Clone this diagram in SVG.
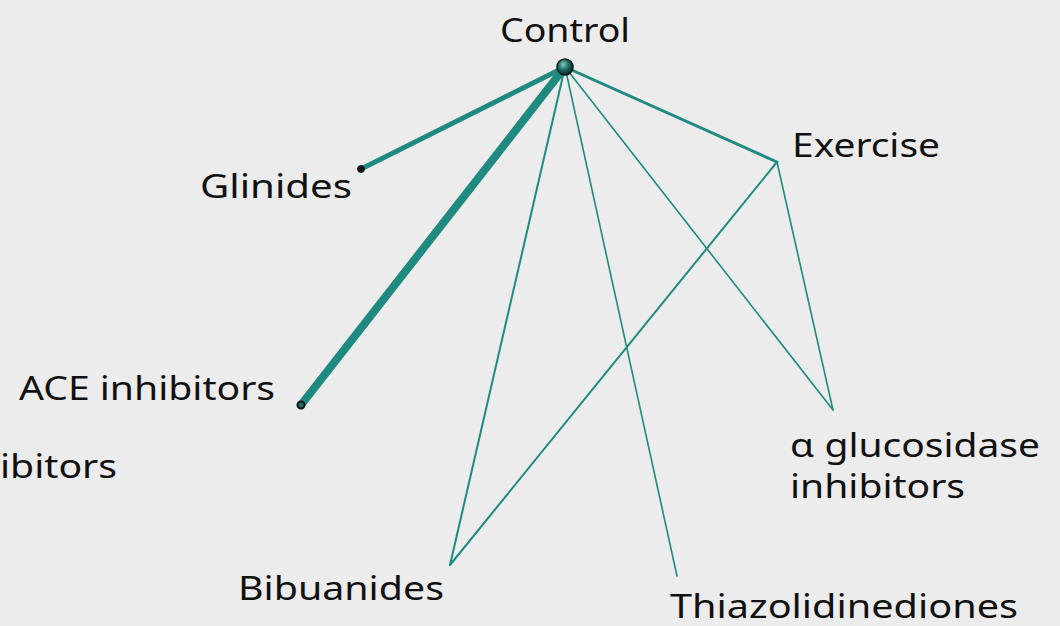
<svg xmlns="http://www.w3.org/2000/svg" width="1060" height="626" viewBox="0 0 1060 626">
<defs>
<radialGradient id="sph" cx="40%" cy="35%" r="65%">
<stop offset="0" stop-color="#7fc9c0"/>
<stop offset="0.5" stop-color="#1f6f68"/>
<stop offset="1" stop-color="#0a2422"/>
</radialGradient>
</defs>
<style>
.lbl{font-family:"Noto Sans","Open Sans",sans-serif;font-size:33px;fill:#111;}
.e{stroke:#1e8a80;fill:none;stroke-linecap:round;}
.dot{fill:#111;stroke:#222;}
</style>
<rect width="1060" height="626" fill="#ececec"/>
<g id="connectors">
<line class="e" x1="565" y1="67" x2="361" y2="169" stroke-width="5"/>
<line class="e" x1="565" y1="67" x2="301" y2="405" stroke-width="8"/>
<line class="e" x1="565" y1="67" x2="777" y2="162" stroke-width="3"/>
<line class="e" x1="565" y1="67" x2="450" y2="565" stroke-width="2"/>
<line class="e" x1="565" y1="67" x2="677" y2="576" stroke-width="1.6"/>
<line class="e" x1="565" y1="67" x2="833" y2="410" stroke-width="1.6"/>
<line class="e" x1="777" y1="162" x2="450" y2="565" stroke-width="2"/>
<line class="e" x1="777" y1="162" x2="833" y2="410" stroke-width="1.6"/>
</g>
<g id="node-control">
<circle cx="565" cy="67" r="8" fill="url(#sph)" stroke="#0a1a18" stroke-width="1.5"/>
<text class="lbl" x="500" y="42" textLength="130" lengthAdjust="spacingAndGlyphs">Control</text>
</g>
<g id="node-glinides">
<circle class="dot" cx="361" cy="169" r="3.5"/>
<text class="lbl" x="200" y="198" textLength="152" lengthAdjust="spacingAndGlyphs">Glinides</text>
</g>
<g id="node-ace">
<circle cx="301" cy="405" r="3.5" fill="#1e6f68" stroke="#111" stroke-width="2"/>
<text class="lbl" x="19" y="400" textLength="256" lengthAdjust="spacingAndGlyphs">ACE inhibitors</text>
</g>
<g id="node-partial">
<text class="lbl" x="0" y="478" textLength="117" lengthAdjust="spacingAndGlyphs">ibitors</text>
</g>
<g id="node-exercise">
<text class="lbl" x="792" y="157" textLength="148" lengthAdjust="spacingAndGlyphs">Exercise</text>
</g>
<g id="node-alpha">
<text class="lbl" x="790" y="457" textLength="250" lengthAdjust="spacingAndGlyphs">α glucosidase</text>
<text class="lbl" x="790" y="498" textLength="175" lengthAdjust="spacingAndGlyphs">inhibitors</text>
</g>
<g id="node-bibuanides">
<text class="lbl" x="238" y="600" textLength="206" lengthAdjust="spacingAndGlyphs">Bibuanides</text>
</g>
<g id="node-thiazo">
<text class="lbl" x="670" y="618" textLength="348" lengthAdjust="spacingAndGlyphs">Thiazolidinediones</text>
</g>
</svg>
